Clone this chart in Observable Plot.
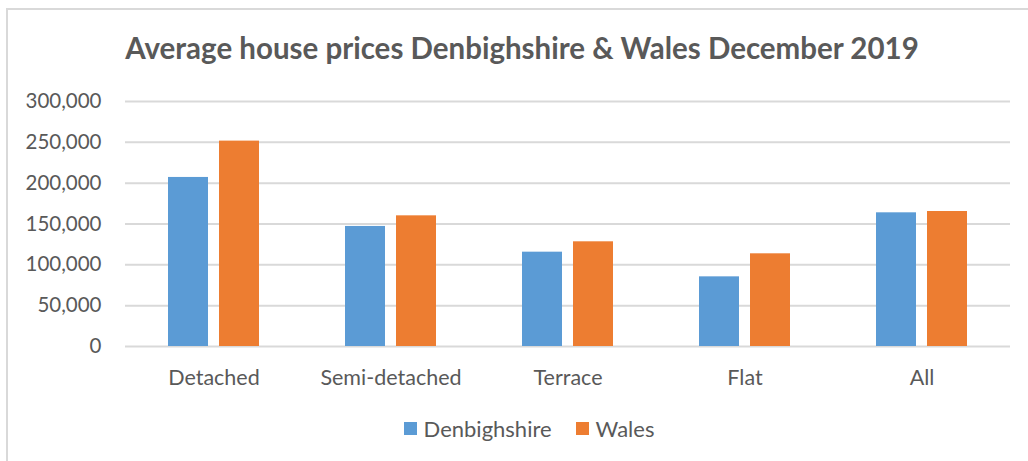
<!DOCTYPE html>
<html>
<head>
<meta charset="utf-8">
<script src="https://cdn.jsdelivr.net/npm/d3@7"></script>
<script src="https://cdn.jsdelivr.net/npm/@observablehq/plot@0.6"></script>
<style>
  html, body { margin: 0; padding: 0; background: #fff; width: 1028px; height: 461px; overflow: hidden; font-family: Lato, "Open Sans", sans-serif; color: #595959; }
  #frame { position: absolute; left: 6px; top: 8px; width: 1040px; height: 470px; border-left: 2px solid #d9d9d9; border-top: 2px solid #d9d9d9; }
  #title { position: absolute; left: 0; width: 1044px; top: 30px; text-align: center; font-weight: bold; font-size: 29.5px; color: #595959; }
  #chart { position: absolute; left: 0; top: 85px; }
  #legend { position: absolute; top: 415px; left: 0; width: 1028px; display: flex; justify-content: center; gap: 24px; font-size: 22px; color: #595959; padding-left: 30px; box-sizing: border-box; }
  .item { display: flex; align-items: center; gap: 7px; }
  .sw { width: 13px; height: 13px; display: inline-block; }
</style>
</head>
<body>
<div id="frame"></div>
<div id="title">Average house prices Denbighshire &amp; Wales December 2019</div>
<div id="chart"></div>
<div id="legend"></div>
<script>
const categories = ["Detached", "Semi-detached", "Terrace", "Flat", "All"];
const series = ["Denbighshire", "Wales"];
const denbighshire = [207000, 147000, 115500, 85300, 163700];
const wales = [251500, 160000, 128200, 113500, 165300];
const yTicks = [0, 50000, 100000, 150000, 200000, 250000, 300000];
const colors = ["#5b9bd5", "#ed7d31"];

const data = [];
categories.forEach((c, i) => {
  data.push({category: c, series: series[0], value: denbighshire[i]});
  data.push({category: c, series: series[1], value: wales[i]});
});

const fmt = d3.format(",");

const chart = Plot.plot({
  width: 1028,
  height: 320,
  marginTop: 16,
  marginBottom: 59,
  marginLeft: 125,
  marginRight: 18,
  style: {fontFamily: "Lato, 'Open Sans', sans-serif", fontSize: "20px", color: "#595959", background: "transparent"},
  fx: {domain: categories, padding: 0, label: null},
  x: {domain: series, paddingInner: 0.2157, paddingOuter: 0.843, axis: null},
  y: {domain: [0, 300000], label: null},
  color: {domain: series, range: colors},
  marks: [
    Plot.gridY(yTicks, {stroke: "#d9d9d9", strokeOpacity: 1, strokeWidth: 2}),
    Plot.barY(data, {fx: "category", x: "series", y: "value", fill: "series"}),
    Plot.axisY(yTicks, {tickSize: 0, tickPadding: 24, tickFormat: fmt, fontSize: 20.5, fill: "#595959", label: null}),
    Plot.axisFx({anchor: "bottom", tickSize: 0, tickPadding: 23, fontSize: 21.5, fill: "#595959", label: null})
  ]
});
document.getElementById("chart").appendChild(chart);

const legend = document.getElementById("legend");
series.forEach((s, i) => {
  const item = document.createElement("div");
  item.className = "item";
  const sw = document.createElement("span");
  sw.className = "sw";
  sw.style.background = colors[i];
  const t = document.createElement("span");
  t.textContent = s;
  item.appendChild(sw);
  item.appendChild(t);
  legend.appendChild(item);
});
</script>
</body>
</html>
